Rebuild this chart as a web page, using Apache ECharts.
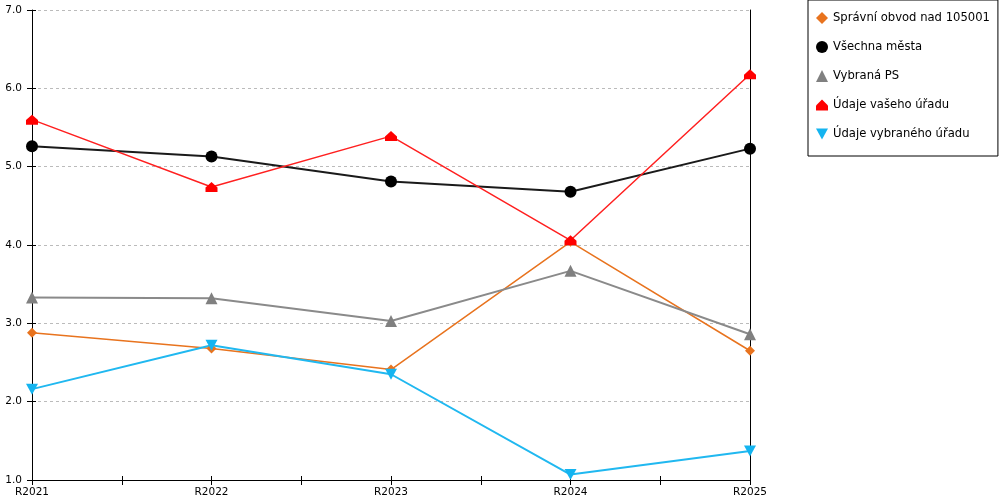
<!DOCTYPE html>
<html>
<head>
<meta charset="utf-8">
<script src="https://cdn.jsdelivr.net/npm/echarts@6/dist/echarts.min.js"></script>
<style>
  html, body { margin: 0; padding: 0; background: #fff; }
  #chart { width: 1000px; height: 500px; }
</style>
</head>
<body>
<div id="chart"></div>
<script>
// years on the x axis
var categories = ['R2021', 'R2022', 'R2023', 'R2024', 'R2025'];

// values
var spravniObvod = [2.88, 2.68, 2.41, 4.04, 2.65];
var vsechnaMesta = [5.26, 5.13, 4.81, 4.68, 5.23];
var vybranaPS = [3.33, 3.32, 3.03, 3.67, 2.86];
var vasUrad = [5.60, 4.74, 5.39, 4.06, 6.18];
var vybranyUrad = [2.16, 2.72, 2.35, 1.07, 1.37];

var yTicks = { min: 1, max: 7, interval: 1 };

var housePath = 'path://M0,-6 L6,0 L6,5 L-6,5 L-6,0 Z';
var downPath = 'path://M0,0 L12,0 L6,11 Z';

// pair values with category index for the value-type x axis
function pts(arr) {
    return arr.map(function (v, i) { return [i, v]; });
}

var chart = echarts.init(document.getElementById('chart'));

var font = 'DejaVu Sans';

chart.setOption({
    animation: false,
    textStyle: { fontFamily: font },
    grid: { left: 32, right: 250, top: 10, bottom: 20 },
    legend: {
        orient: 'vertical',
        left: 808,
        top: 0,
        padding: [12, 8, 16, 8],
        itemGap: 17,
        itemWidth: 12,
        itemHeight: 12,
        borderColor: '#000',
        borderWidth: 1,
        textStyle: { fontFamily: font, fontSize: 11.6, color: '#000', padding: [0, 0, 0, 0] },
        data: [
            { name: 'Správní obvod nad 105001', icon: 'diamond' },
            { name: 'Všechna města', icon: 'circle' },
            { name: 'Vybraná PS', icon: 'triangle' },
            { name: 'Údaje vašeho úřadu', icon: housePath },
            { name: 'Údaje vybraného úřadu', icon: downPath }
        ]
    },
    xAxis: [
        {
            type: 'value',
            min: 0,
            max: 4,
            interval: 0.5,
            axisLine: { show: true, lineStyle: { color: '#000', width: 1 } },
            axisTick: { show: true, length: 5, lineStyle: { color: '#000' } },
            axisLabel: {
                color: '#000',
                fontSize: 10.5,
                margin: 7,
                formatter: function (v) {
                    return v % 1 === 0 ? categories[v] : '';
                }
            },
            splitLine: { show: false }
        },
        {
            type: 'value',
            position: 'bottom',
            min: 0,
            max: 4,
            interval: 0.5,
            axisLine: { show: false },
            axisTick: { show: true, inside: true, length: 4, lineStyle: { color: '#000' } },
            axisLabel: { show: false },
            splitLine: { show: false }
        }
    ],
    yAxis: [
        {
            type: 'value',
            min: yTicks.min,
            max: yTicks.max,
            interval: yTicks.interval,
            axisLine: { show: true, lineStyle: { color: '#000', width: 1 } },
            axisTick: { show: true, length: 5, lineStyle: { color: '#000' } },
            axisLabel: {
                color: '#000',
                fontSize: 10.5,
                margin: 10,
                formatter: function (v) { return v.toFixed(1); }
            },
            splitLine: { show: true, lineStyle: { color: '#bbb', type: [3, 3] } }
        },
        {
            type: 'value',
            position: 'left',
            min: yTicks.min,
            max: yTicks.max,
            interval: yTicks.interval,
            axisLine: { show: false },
            axisTick: { show: true, inside: true, length: 4, lineStyle: { color: '#000' } },
            axisLabel: { show: false },
            splitLine: { show: false }
        },
        {
            type: 'value',
            position: 'right',
            min: yTicks.min,
            max: yTicks.max,
            interval: yTicks.interval,
            axisLine: { show: true, onZero: false, lineStyle: { color: '#000', width: 1 } },
            axisTick: { show: false },
            axisLabel: { show: false },
            splitLine: { show: false }
        }
    ],
    series: [
        {
            name: 'Správní obvod nad 105001',
            type: 'line',
            data: pts(spravniObvod),
            symbol: 'diamond',
            symbolSize: 10,
            itemStyle: { color: '#E8731E' },
            lineStyle: { color: '#E8731E', width: 1.5 }
        },
        {
            name: 'Všechna města',
            type: 'line',
            data: pts(vsechnaMesta),
            symbol: 'circle',
            symbolSize: 12,
            itemStyle: { color: '#000' },
            lineStyle: { color: '#1a1a1a', width: 2 }
        },
        {
            name: 'Vybraná PS',
            type: 'line',
            data: pts(vybranaPS),
            symbol: 'triangle',
            symbolSize: 12,
            itemStyle: { color: '#808080' },
            lineStyle: { color: '#8a8a8a', width: 2 }
        },
        {
            name: 'Údaje vašeho úřadu',
            type: 'line',
            data: pts(vasUrad),
            symbol: housePath,
            symbolSize: [12, 10],
            itemStyle: { color: '#FF0000' },
            lineStyle: { color: '#FF2020', width: 1.5 }
        },
        {
            name: 'Údaje vybraného úřadu',
            type: 'line',
            data: pts(vybranyUrad),
            symbol: downPath,
            symbolSize: [12, 11],
            itemStyle: { color: '#14B4F0' },
            lineStyle: { color: '#20B8F0', width: 2 }
        }
    ]
});
</script>
</body>
</html>
